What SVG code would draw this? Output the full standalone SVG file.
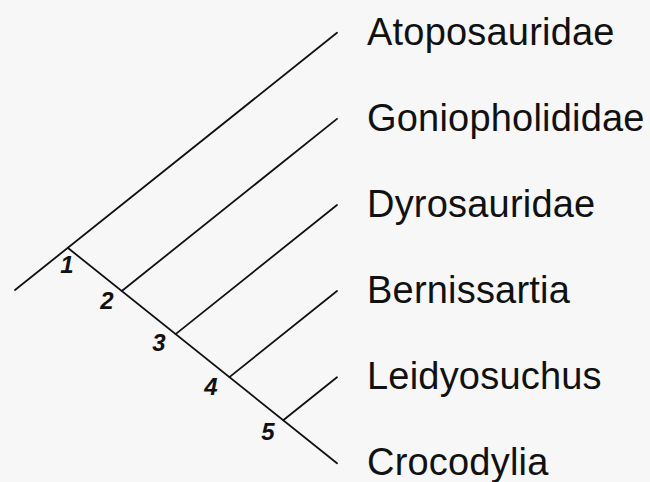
<svg xmlns="http://www.w3.org/2000/svg" width="650" height="482" viewBox="0 0 650 482">
<style>
.ln{stroke:#111;stroke-width:1.8;fill:none;stroke-linecap:round}
.tx{font-family:"Liberation Sans",Arial,Helvetica,sans-serif;font-size:38px;fill:#111;letter-spacing:0.2px}
.nm{font-family:"Liberation Sans",Arial,Helvetica,sans-serif;font-size:24px;font-style:italic;font-weight:bold;fill:#111;text-anchor:middle}
</style>
<rect width="650" height="482" fill="#f7f7f7"/>
<g id="connectors">
<line class="ln" x1="15" y1="290" x2="337" y2="32.8"/>
<line class="ln" x1="68" y1="248" x2="337" y2="463.2"/>
<line class="ln" x1="121.8" y1="291" x2="337" y2="118.9"/>
<line class="ln" x1="175.6" y1="334.1" x2="337" y2="205"/>
<line class="ln" x1="229.4" y1="377.1" x2="337" y2="291"/>
<line class="ln" x1="283.2" y1="420.2" x2="337" y2="377.2"/>
</g>
<g id="node1"><text class="nm" x="67" y="273">1</text></g>
<g id="node2"><text class="nm" x="107" y="309">2</text></g>
<g id="node3"><text class="nm" x="159" y="351">3</text></g>
<g id="node4"><text class="nm" x="211" y="395">4</text></g>
<g id="node5"><text class="nm" x="268" y="440">5</text></g>
<g id="taxon-atoposauridae"><text class="tx" x="367" y="45">Atoposauridae</text></g>
<g id="taxon-goniopholididae"><text class="tx" x="367" y="131">Goniopholididae</text></g>
<g id="taxon-dyrosauridae"><text class="tx" x="367" y="217">Dyrosauridae</text></g>
<g id="taxon-bernissartia"><text class="tx" x="367" y="303">Bernissartia</text></g>
<g id="taxon-leidyosuchus"><text class="tx" x="367" y="389">Leidyosuchus</text></g>
<g id="taxon-crocodylia"><text class="tx" x="367" y="475">Crocodylia</text></g>
</svg>
